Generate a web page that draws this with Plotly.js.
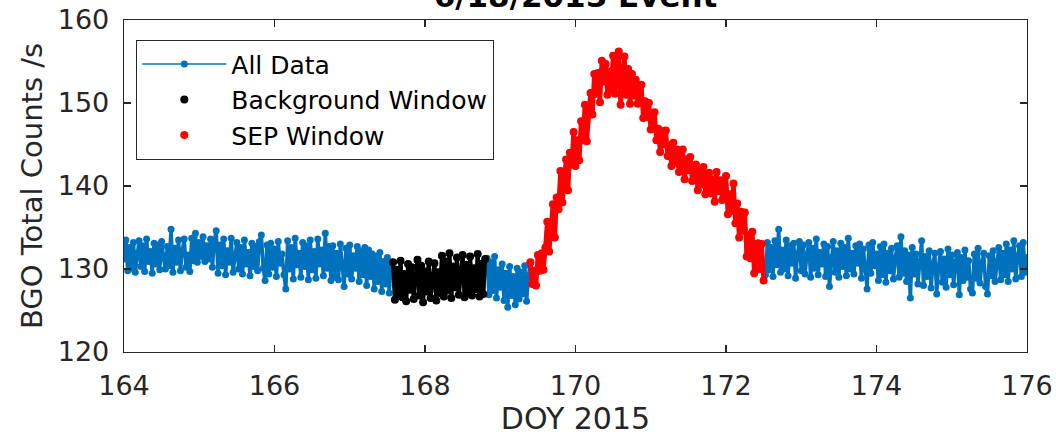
<!DOCTYPE html>
<html>
<head>
<meta charset="utf-8">
<script src="https://cdn.plot.ly/plotly-3.0.1.min.js"></script>
<style>
  html, body { margin: 0; padding: 0; background: #fff; }
  #chart { width: 1056px; height: 440px; }
</style>
</head>
<body>
<div id="chart"></div>
<script>
// BGO total count rate, one sample every 0.025 day starting at DOY 164.000
const START_DOY = 164.0;
const CADENCE = 0.025;

// DOY 164.000 - 167.550
const prePeriod = [
  131.2, 133.5, 129.8, 132.6, 130.1, 133.2, 129.6, 131.9, 133.4, 130.3,
  132.8, 129.7, 133.6, 130.9, 132.1, 129.5, 133.1, 130.6, 132.9, 129.9,
  133.3, 131.4, 130.0, 132.7, 130.4, 134.8, 129.6, 132.5, 130.8, 133.5,
  129.8, 132.2, 133.6, 130.2, 131.7, 129.7,
  133.7, 131.0, 134.3, 130.8, 133.2, 131.5, 133.9, 130.9, 132.8, 131.2, 133.6,
  130.2, 133.4, 134.6, 129.5, 132.9, 130.4, 133.6, 129.3, 132.2, 130.8,
  133.7, 129.6, 131.5, 133.2, 130.0, 132.6, 129.4, 133.5, 130.6, 132.0,
  129.2, 133.1, 130.3, 132.7, 129.8, 133.3, 134.1, 130.1, 128.6,
  132.9, 129.4, 133.1, 130.2, 132.4, 129.1, 133.3, 130.7, 131.8, 129.3,
  127.6, 133.4, 130.0, 132.6, 128.8, 133.7, 130.5, 131.9, 129.0, 133.2,
  130.3, 132.8, 128.7, 133.5, 129.9, 132.1, 128.9, 133.6, 130.6, 132.3,
  129.2, 134.3, 130.1, 132.7, 128.6,
  132.8, 129.0, 131.9, 128.7, 133.0, 130.2, 127.9, 132.5, 129.4, 132.9,
  128.8, 131.6, 130.1, 132.7, 128.5, 132.2, 129.3, 132.6,
  128.0, 132.3, 129.1, 131.8, 127.6, 131.5, 128.5, 132.0, 127.3, 130.9,
  128.2, 131.4, 127.1, 130.6
];

// Background window, DOY 167.575 - 168.800
const backgroundWindow = [
  130.8, 126.3, 129.9, 127.0, 131.0, 126.6, 129.4, 126.1, 130.6, 127.5,
  130.2, 126.4, 129.0, 131.1, 126.8, 130.4, 126.0, 129.7, 127.3, 130.9,
  126.5, 128.8, 130.7, 126.2, 129.6, 127.1,
  131.6, 126.7, 130.9, 127.4, 131.9, 126.5, 130.3, 127.8, 131.4, 126.9,
  129.8, 131.7, 126.6, 130.5, 127.2, 131.5, 126.8, 130.1, 127.6, 131.8,
  126.7, 130.6, 127.0, 131.2
];

// DOY 168.825 - 169.375
const gapPeriod = [
  131.3, 126.9, 130.8, 127.4, 131.5, 126.5, 129.9, 127.8, 130.6, 126.2,
  129.5, 125.4, 130.3, 126.8, 129.1, 125.7, 130.1, 126.4, 129.6, 127.0,
  130.4, 126.1, 129.2
];

// SEP window, DOY 169.400 - 172.500
const sepWindow = [
  130.8, 128.2, 129.8, 128.0, 131.7, 129.8, 131.9, 129.9, 132.6, 135.7,
  132.1, 134.5, 137.8, 133.8, 138.6, 137.2, 141.8, 138.0, 141.0, 143.2,
  139.5, 144.0, 142.6, 146.5, 142.4, 145.5, 143.1, 147.8, 145.5, 149.8,
  145.4, 149.4, 151.2, 148.6, 153.5, 151.1, 153.6, 150.1, 155.1, 152.6,
  154.7, 151.0, 153.8, 151.7, 155.7, 151.1, 153.7, 156.2, 149.8, 153.3,
  155.6, 151.0, 154.1, 149.9, 153.5, 150.9, 152.8, 149.9, 151.1, 152.2,
  148.2, 150.2, 148.3, 150.0, 146.8, 148.1, 148.9, 145.5, 146.9, 144.1,
  146.6, 145.0, 146.7, 143.6, 144.9, 142.4, 145.2, 142.8, 144.4, 141.7,
  143.0, 144.4, 140.8, 143.2, 141.9, 143.5, 140.6, 142.0, 142.6, 139.5,
  141.9, 140.2, 142.3, 139.0, 140.6, 141.6, 139.1, 140.8, 138.1, 141.7,
  139.4, 140.7, 138.3, 139.9, 141.2, 136.6, 139.0, 137.0, 140.3, 135.5,
  137.9, 133.8, 136.9, 134.6, 136.8, 131.5, 134.1, 131.3, 134.5, 129.5,
  132.3, 133.1, 130.0, 133.0, 128.6
];

// DOY 172.525 - 176.000
const postPeriod = [
  129.3, 133.2, 129.9, 132.6, 129.1, 133.4, 130.5, 134.8, 129.6, 132.3,
  130.0, 133.5, 129.2, 132.8, 130.7, 133.1, 128.9, 131.8, 133.3, 129.8,
  132.9, 129.4, 131.7, 133.2, 129.0, 132.5, 130.1, 133.6, 129.3, 132.0,
  130.6, 133.0, 129.1, 132.7, 127.9, 131.4, 133.3, 129.6, 132.2, 129.0,
  133.1, 130.3, 132.6, 129.2, 133.7, 130.0, 131.9, 129.4, 132.8, 130.7,
  133.0, 128.9, 132.4, 130.2, 127.6, 132.9, 129.5, 133.2, 130.4, 131.8,
  128.6, 132.7, 129.3, 133.0, 128.4, 131.9, 129.8, 132.5, 128.8, 131.3,
  132.8, 129.0, 133.9, 129.5, 132.2, 128.5, 131.7, 126.5, 132.6, 129.4,
  131.8, 128.2, 130.9, 133.4, 128.0, 131.5, 129.1, 132.2, 127.7, 130.6,
  131.9, 127.0, 130.3, 132.1, 128.4, 131.2, 127.8, 132.4, 129.3, 131.7,
  128.1, 130.8, 132.0, 126.9, 131.4, 128.6, 132.3, 129.0, 131.0, 127.6,
  127.1, 131.8, 128.9, 132.5, 128.3, 130.7, 131.9, 127.9, 127.0, 131.6,
  129.2, 132.2, 128.5, 130.9,
  132.6, 128.7, 131.9, 129.3, 133.0, 128.5, 132.3, 130.0, 133.4, 128.8,
  131.5, 132.8, 129.1, 133.2, 129.6, 131.4
];

const xTickVals = [164, 166, 168, 170, 172, 174, 176];
const yTickVals = [120, 130, 140, 150, 160];

// full record and its time axis
const allCounts = [].concat(prePeriod, backgroundWindow, gapPeriod, sepWindow, postPeriod);
const allDoy = allCounts.map((_, i) => +(START_DOY + i * CADENCE).toFixed(3));

const bgStart = prePeriod.length;
const sepStart = bgStart + backgroundWindow.length + gapPeriod.length;
const bgDoy = allDoy.slice(bgStart, bgStart + backgroundWindow.length);
const sepDoy = allDoy.slice(sepStart, sepStart + sepWindow.length);

const BLUE = '#0072BD';
const AXIS = '#262626';
const FONT = 'DejaVu Sans';

const traces = [
  // heavy stroke under the record so the dense sampling reads as a solid band
  {
    x: allDoy, y: allCounts, type: 'scatter', mode: 'lines',
    line: { color: BLUE, width: 3.6 }, showlegend: false, hoverinfo: 'skip'
  },
  {
    x: allDoy, y: allCounts, type: 'scatter', mode: 'lines+markers',
    name: 'All Data',
    line: { color: BLUE, width: 1.5 },
    marker: { color: BLUE, size: 7 }
  },
  {
    x: bgDoy, y: backgroundWindow, type: 'scatter', mode: 'lines',
    line: { color: '#000000', width: 4 }, showlegend: false, hoverinfo: 'skip'
  },
  {
    x: bgDoy, y: backgroundWindow, type: 'scatter', mode: 'markers',
    name: 'Background Window',
    marker: { color: '#000000', size: 8 }
  },
  {
    x: sepDoy, y: sepWindow, type: 'scatter', mode: 'lines',
    line: { color: '#FF0000', width: 4.5 }, showlegend: false, hoverinfo: 'skip'
  },
  {
    x: sepDoy, y: sepWindow, type: 'scatter', mode: 'markers',
    name: 'SEP Window',
    marker: { color: '#FF0000', size: 8 }
  }
];

const axisCommon = {
  showgrid: false, zeroline: false,
  showline: true, linecolor: AXIS, linewidth: 1.3, mirror: 'ticks',
  ticks: 'inside', ticklen: 7, tickwidth: 1.3, tickcolor: AXIS,
  tickfont: { family: FONT, size: 27, color: AXIS }
};

const layout = {
  width: 1056, height: 440,
  paper_bgcolor: '#ffffff', plot_bgcolor: '#ffffff',
  margin: { l: 124, r: 29, t: 20, b: 88, pad: 0 },
  showlegend: true,
  title: {
    text: '6/18/2015 Event',
    font: { family: FONT, size: 31, color: '#000000', weight: 'bold' },
    xref: 'paper', x: 0.5, xanchor: 'center',
    yref: 'container', y: 0.984, yanchor: 'bottom'
  },
  xaxis: Object.assign({}, axisCommon, {
    range: [164, 176], tickvals: xTickVals, ticklabelstandoff: 9,
    title: { text: 'DOY 2015', font: { family: FONT, size: 30, color: AXIS }, standoff: 4 }
  }),
  yaxis: Object.assign({}, axisCommon, {
    range: [120, 160], tickvals: yTickVals, ticklabelstandoff: 8,
    title: { text: 'BGO Total Counts /s', font: { family: FONT, size: 29, color: AXIS }, standoff: 6 }
  }),
  legend: {
    x: 0.0133, y: 0.94, xanchor: 'left', yanchor: 'top',
    bgcolor: '#ffffff', bordercolor: AXIS, borderwidth: 1.3,
    font: { family: FONT, size: 25, color: '#000000' },
    itemwidth: 84
  }
};

Plotly.newPlot('chart', traces, layout, { displayModeBar: false, staticPlot: true });
</script>
</body>
</html>
